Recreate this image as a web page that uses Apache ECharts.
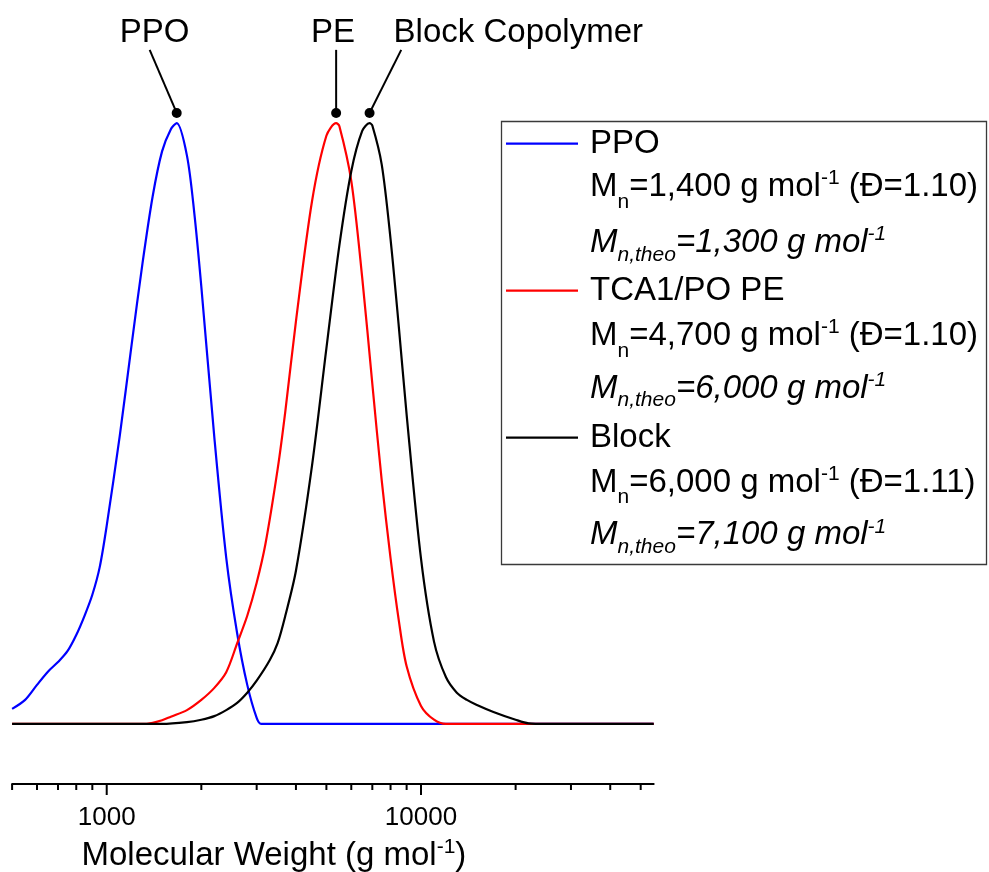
<!DOCTYPE html>
<html>
<head>
<meta charset="utf-8">
<title>GPC traces</title>
<script src="https://cdn.jsdelivr.net/npm/echarts@6/dist/echarts.min.js"></script>
<style>
  html, body { margin: 0; padding: 0; background: #fff; }
  #chart { width: 989px; height: 872px; }
</style>
</head>
<body>
<div id="chart"></div>
<script>
// Molecular weight sample points (g/mol) and normalised detector signal per trace
const ppoMw = [500, 550, 600, 650, 700, 750, 800, 850, 900, 950, 1000, 1100, 1200, 1300, 1400, 1500, 1600, 1670, 1800, 1900, 2000, 2200, 2400, 2600, 2800, 3000, 3100, 55000];
const ppoSignal = [0.025, 0.04, 0.065, 0.087, 0.103, 0.121, 0.148, 0.18, 0.215, 0.261, 0.33, 0.479, 0.631, 0.767, 0.878, 0.953, 0.99, 1.0, 0.946, 0.85, 0.728, 0.477, 0.277, 0.151, 0.065, 0.01, 0, 0];

const peMw = [500, 1300, 1400, 1500, 1600, 1800, 2000, 2200, 2400, 2600, 2800, 3000, 3200, 3500, 3700, 4000, 4500, 5000, 5370, 5500, 6000, 6500, 7000, 7500, 8000, 8500, 9000, 10000, 11000, 12000, 55000];
const peSignal = [0, 0, 0.002, 0.006, 0.012, 0.023, 0.04, 0.06, 0.086, 0.134, 0.18, 0.235, 0.3, 0.425, 0.52, 0.67, 0.87, 0.979, 1.0, 0.995, 0.904, 0.743, 0.566, 0.405, 0.276, 0.172, 0.096, 0.03, 0.007, 0, 0];

const blockMw = [500, 1500, 1800, 2000, 2200, 2400, 2600, 2800, 3000, 3300, 3500, 3700, 4000, 4500, 5000, 5500, 6000, 6500, 6860, 7000, 7500, 8000, 8500, 9000, 10000, 11000, 12000, 13000, 14000, 15000, 17000, 20000, 22000, 25000, 55000];
const blockSignal = [0, 0, 0.003, 0.007, 0.013, 0.023, 0.035, 0.052, 0.072, 0.106, 0.135, 0.18, 0.255, 0.43, 0.625, 0.797, 0.92, 0.987, 1.0, 0.996, 0.931, 0.807, 0.661, 0.515, 0.275, 0.137, 0.078, 0.052, 0.04, 0.032, 0.02, 0.007, 0.001, 0, 0];

const seriesNames = ['PPO', 'TCA1/PO PE', 'Block'];
const seriesColors = ['#0000ff', '#ff0000', '#000000'];

// Legend detail lines: measured Mn, dispersity and theoretical Mn
const legendMn = ['1,400', '4,700', '6,000'];
const legendDispersity = ['1.10', '1.10', '1.11'];
const legendMnTheo = ['1,300', '6,000', '7,100'];

// Peak callouts above the traces
const calloutNames = ['PPO', 'PE', 'Block Copolymer'];
const calloutPeakMw = [1670, 5370, 6860];
const calloutLeaderMw = [1370, 5370, 8650];
const calloutTextMw = [1420, 5250, 8180];
const calloutAlign = ['center', 'center', 'left'];

// Axis ticks
const majorTicks = [1000, 10000];
const minorTicks = [500, 600, 700, 800, 900, 2000, 3000, 4000, 5000, 6000, 7000, 8000, 9000, 20000, 30000, 40000, 50000];

const X_MIN = 500, X_MAX = 55000;
const Y_MIN = -0.1, Y_MAX = 1.2;
const DOT_Y = 1.017, LEADER_TOP_Y = 1.122, CALLOUT_TEXT_Y = 1.151;

const FONT = '"Liberation Sans", Arial, Helvetica, sans-serif';

function zip(xs, ys) { return xs.map((x, i) => [x, ys[i]]); }

const traces = [zip(ppoMw, ppoSignal), zip(peMw, peSignal), zip(blockMw, blockSignal)];

const tickData = minorTicks.map(v => [v, 0]).concat(majorTicks.map(v => [v, 1]));

// rich-text styles for the legend detail lines (zrender style names)
function richStyles() {
  const base = { fontFamily: FONT, fill: '#000', lineHeight: 40 };
  return {
    t:    Object.assign({}, base, { fontSize: 33 }),
    sub:  Object.assign({}, base, { fontSize: 21, verticalAlign: 'bottom', height: 10 }),
    sup:  Object.assign({}, base, { fontSize: 21, verticalAlign: 'top', height: 23 }),
    ti:   Object.assign({}, base, { fontSize: 33, fontStyle: 'italic' }),
    subi: Object.assign({}, base, { fontSize: 21, fontStyle: 'italic', verticalAlign: 'bottom', height: 16 }),
    supi: Object.assign({}, base, { fontSize: 21, fontStyle: 'italic', verticalAlign: 'top', height: 23 })
  };
}

const detailTops = [[166.9, 222.9], [315.9, 368.6], [462.6, 515.3]];
const legendGraphics = [{
  type: 'rect',
  shape: { x: 501.5, y: 121.5, width: 485, height: 443 },
  style: { fill: 'none', stroke: '#3a3a3a', lineWidth: 1.3 },
  z: 1
}];
legendMn.forEach((mn, i) => {
  legendGraphics.push({
    type: 'text', left: 590, top: detailTops[i][0], z: 2,
    style: {
      text: '{t|M}{sub|n}{t|=' + mn + ' g mol}{sup|-1}{t| (Đ=' + legendDispersity[i] + ')}',
      rich: richStyles()
    }
  });
  legendGraphics.push({
    type: 'text', left: 590, top: detailTops[i][1], z: 2,
    style: {
      text: '{ti|M}{subi|n,theo}{ti|=' + legendMnTheo[i] + ' g mol}{supi|-1}',
      rich: richStyles()
    }
  });
});

const chart = echarts.init(document.getElementById('chart'), null, { renderer: 'canvas' });

const option = {
  animation: false,
  backgroundColor: '#ffffff',
  grid: { left: 12.1, right: 335.3, top: 3, bottom: 88, containLabel: false, outerBoundsMode: 'none' },
  xAxis: {
    type: 'log',
    logBase: 10,
    min: X_MIN,
    max: X_MAX,
    axisLine: { show: true, onZero: false, lineStyle: { color: '#000', width: 2 } },
    axisTick: { show: false },
    splitLine: { show: false },
    axisLabel: {
      fontSize: 26, fontFamily: FONT, color: '#000', margin: 21,
      showMinLabel: false, showMaxLabel: false,
      formatter: v => {
        const r = Math.round(v);
        return majorTicks.indexOf(r) >= 0 ? String(r) : '';
      }
    },
    name: '{t|Molecular Weight (g mol}{sup|-1}{t|)}',
    nameLocation: 'middle',
    nameGap: 52,
    nameTextStyle: {
      padding: [0, 118, 0, 0],
      rich: {
        t: { fontSize: 33, fontFamily: FONT, color: '#000', lineHeight: 40 },
        sup: { fontSize: 21, fontFamily: FONT, color: '#000', lineHeight: 40, verticalAlign: 'top', height: 23 }
      }
    }
  },
  yAxis: {
    type: 'value', min: Y_MIN, max: Y_MAX, show: false,
    splitLine: { show: false }
  },
  legend: {
    data: seriesNames.map(n => ({ name: n, icon: 'rect' })),
    orient: 'vertical',
    left: 506,
    top: 123.6,
    padding: 0,
    itemWidth: 72,
    itemHeight: 2.2,
    itemGap: 107,
    selectedMode: false,
    textStyle: { fontSize: 33, fontFamily: FONT, color: '#000', lineHeight: 40, padding: [0, 0, 0, 7] }
  },
  graphic: legendGraphics,
  series: traces.map((d, i) => ({
    name: seriesNames[i],
    type: 'line',
    data: d,
    symbol: 'none',
    smooth: 0.3,
    lineStyle: { color: seriesColors[i], width: 2.2 },
    itemStyle: { color: seriesColors[i] },
    z: 2 + i
  })).concat([
    {
      name: 'ticks',
      type: 'custom',
      data: tickData,
      clip: false,
      silent: true,
      z: 10,
      renderItem: (params, api) => {
        const p = api.coord([api.value(0), Y_MIN]);
        const len = api.value(1) ? 11 : 6;
        return {
          type: 'line',
          shape: { x1: p[0], y1: p[1], x2: p[0], y2: p[1] + len },
          style: { stroke: '#000', lineWidth: 2 }
        };
      }
    },
    {
      name: 'callouts',
      type: 'custom',
      data: calloutPeakMw.map((m, i) => [m, DOT_Y]),
      clip: false,
      silent: true,
      z: 10,
      renderItem: (params, api) => {
        const i = params.dataIndex;
        const dot = api.coord([calloutPeakMw[i], DOT_Y]);
        const top = api.coord([calloutLeaderMw[i], LEADER_TOP_Y]);
        const txt = api.coord([calloutTextMw[i], CALLOUT_TEXT_Y]);
        return {
          type: 'group',
          children: [
            { type: 'line', shape: { x1: dot[0], y1: dot[1], x2: top[0], y2: top[1] }, style: { stroke: '#000', lineWidth: 2 } },
            { type: 'circle', shape: { cx: dot[0], cy: dot[1], r: 5 }, style: { fill: '#000' } },
            { type: 'text', x: txt[0], y: txt[1], style: { text: calloutNames[i], fontSize: 33, fontFamily: FONT, fill: '#000', align: calloutAlign[i], verticalAlign: 'middle' } }
          ]
        };
      }
    }
  ])
};

chart.setOption(option);
</script>
</body>
</html>
